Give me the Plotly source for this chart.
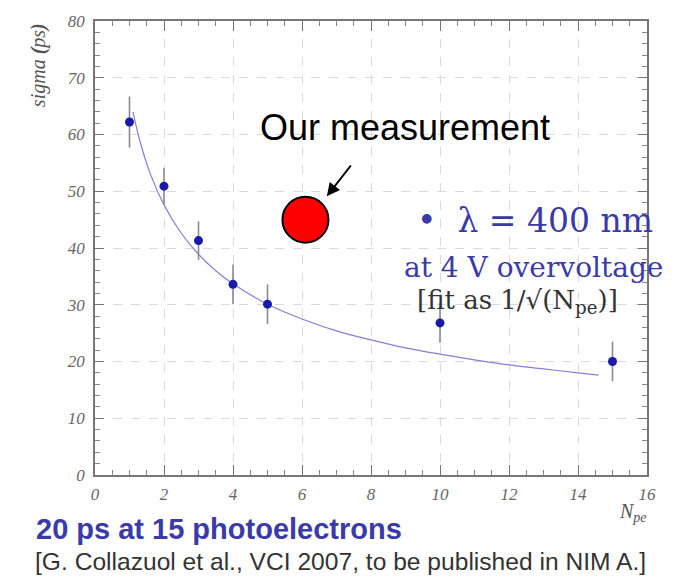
import plotly.graph_objects as go

# Timing resolution vs number of photoelectrons (lambda = 400 nm, 4 V overvoltage)
n_pe = [1, 2, 3, 4, 5, 10, 15]
sigma_ps = [62.2, 50.9, 41.3, 33.6, 30.1, 26.8, 20.0]
sigma_err = [4.5, 3.2, 3.4, 3.5, 3.5, 3.5, 3.5]

# 1/sqrt(N_pe) fit curve, sampled along the drawn line
fit_x = [1.1, 1.3, 1.6, 2.0, 2.5, 3.0, 3.5, 4.0, 5.0, 6.0, 7.0, 8.0,
         9.0, 10.0, 11.0, 12.0, 13.0, 14.0, 14.6]
fit_y = [64.0, 58.9, 53.1, 47.6, 42.6, 38.9, 36.0, 33.7, 30.1, 27.5, 25.4, 23.8,
         22.4, 21.3, 20.3, 19.4, 18.7, 18.0, 17.6]

# Our own measurement
our_x = [6.1]
our_y = [45.0]

x_ticks = [0, 2, 4, 6, 8, 10, 12, 14, 16]
y_ticks = [0, 10, 20, 30, 40, 50, 60, 70, 80]

BLUE = "#1a1aaa"
TEXT_BLUE = "#3a3aa8"

fig = go.Figure()

fig.add_trace(go.Scatter(
    x=fit_x, y=fit_y, mode="lines",
    line=dict(color="#8282d4", width=1.2, shape="spline"),
    hoverinfo="skip", showlegend=False,
))

fig.add_trace(go.Scatter(
    x=n_pe, y=sigma_ps, mode="markers",
    marker=dict(color=BLUE, size=9),
    error_y=dict(type="data", array=sigma_err, color="#8a8a8a", thickness=1.6, width=0),
    showlegend=False,
))

fig.add_trace(go.Scatter(
    x=our_x, y=our_y, mode="markers",
    marker=dict(color="#ff0000", size=46, line=dict(color="black", width=2)),
    showlegend=False,
))

tick_font = dict(family="Liberation Serif", size=17, color="#666666", style="italic")

fig.update_xaxes(
    range=[0, 16], tickvals=x_ticks, ticktext=[str(v) for v in x_ticks],
    ticks="inside", ticklen=10, tickcolor="#777777", tickwidth=1.2,
    showline=True, linecolor="#777777", linewidth=1.5, mirror="allticks",
    showgrid=True, gridcolor="#dadada", griddash="dash", gridwidth=1,
    minor=dict(dtick=0.5, ticks="inside", ticklen=5, tickcolor="#888888", showgrid=False),
    zeroline=False, tickfont=tick_font, ticklabelstandoff=3,
)
fig.update_yaxes(
    range=[0, 80], tickvals=y_ticks, ticktext=[str(v) for v in y_ticks],
    ticks="inside", ticklen=9, tickcolor="#777777", tickwidth=1.2,
    showline=True, linecolor="#777777", linewidth=1.5, mirror="allticks",
    showgrid=True, gridcolor="#dadada", griddash="dash", gridwidth=1,
    minor=dict(dtick=2, ticks="inside", ticklen=5, tickcolor="#888888", showgrid=False),
    zeroline=False, tickfont=tick_font, ticklabelstandoff=5,
)

annotations = [
    # y-axis title
    dict(text="sigma <b>(</b>ps<b>)</b>", xref="paper", yref="paper", x=-0.103, y=1.0,
         xanchor="center", yanchor="top", textangle=-90, showarrow=False,
         font=dict(family="Liberation Serif", size=20, color="#555555", style="italic")),
    # x-axis title
    dict(text="N<sub>pe</sub>", xref="paper", yref="paper", x=0.975, y=-0.083,
         xanchor="center", yanchor="middle", showarrow=False,
         font=dict(family="Liberation Serif", size=20, color="#555555", style="italic")),
    # measurement label and arrow
    dict(text="Our measurement", xref="x", yref="y", x=8.99, y=61.3,
         xanchor="center", yanchor="middle", showarrow=False,
         font=dict(family="Liberation Sans", size=36, color="black")),
    dict(text="", xref="x", yref="y", axref="x", ayref="y",
         x=6.72, y=49.1, ax=7.45, ay=54.8, showarrow=True,
         arrowhead=2, arrowsize=1.3, arrowwidth=2, arrowcolor="black"),
    # legend-like labels
    dict(text="•  λ = 400 nm", xref="x", yref="y", x=12.75, y=44.8,
         xanchor="center", yanchor="middle", showarrow=False,
         font=dict(family="DejaVu Serif", size=33, color=TEXT_BLUE)),
    dict(text="at 4 V overvoltage", xref="x", yref="y", x=12.72, y=36.5,
         xanchor="center", yanchor="middle", showarrow=False,
         font=dict(family="DejaVu Serif", size=28, color=TEXT_BLUE)),
    dict(text="[fit as 1/√(N<sub>pe</sub>)]", xref="x", yref="y", x=12.26, y=30.6,
         xanchor="center", yanchor="middle", showarrow=False,
         font=dict(family="DejaVu Serif", size=26, color="#333333")),
    # captions below the chart
    dict(text="<b>20 ps at 15 photoelectrons</b>", xref="paper", yref="paper",
         x=-0.11, y=-0.12, xanchor="left", yanchor="middle", showarrow=False,
         font=dict(family="Liberation Sans", size=29, color=TEXT_BLUE)),
    dict(text="[G. Collazuol et al., VCI 2007, to be published in NIM A.]",
         xref="paper", yref="paper", x=-0.112, y=-0.19, xanchor="left", yanchor="middle",
         showarrow=False,
         font=dict(family="Liberation Sans", size=24.6, color="#333333")),
]

fig.update_layout(
    width=681, height=577,
    margin=dict(l=95, r=34, t=16, b=102),
    paper_bgcolor="white", plot_bgcolor="white",
    annotations=annotations,
    showlegend=False,
)

fig.write_html("out.html")
